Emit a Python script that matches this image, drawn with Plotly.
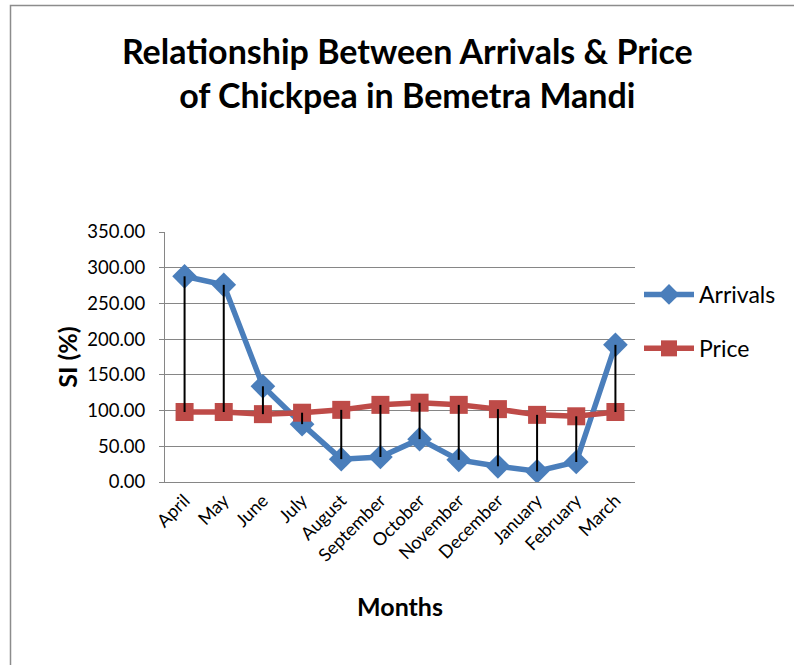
import plotly.graph_objects as go

months = ["April", "May", "June", "July", "August", "September", "October",
          "November", "December", "January", "February", "March"]
arrivals = [288, 276, 134, 81, 32, 35, 60, 31, 22, 15, 28, 192]
price = [98, 98, 95, 97, 101, 108, 111, 108, 102, 94, 92, 98]
y_ticks = [0, 50, 100, 150, 200, 250, 300, 350]

FONT = "Lato"

# high-low lines between the two series
hl_x, hl_y = [], []
for m, a, p in zip(months, arrivals, price):
    hl_x += [m, m, None]
    hl_y += [a, p, None]

fig = go.Figure()
fig.add_trace(go.Scatter(x=months, y=arrivals, name="Arrivals", mode="lines+markers",
                         legendgroup="a",
                         line=dict(color="#4a7ebb", width=5.5),
                         marker=dict(symbol="diamond", size=19, color="#4a7ebb")))
fig.add_trace(go.Scatter(x=months, y=price, name="Price", mode="lines+markers",
                         legendgroup="p",
                         line=dict(color="#be4b48", width=5.5),
                         marker=dict(symbol="square", size=18, color="#be4b48")))
fig.add_trace(go.Scatter(x=hl_x, y=hl_y, mode="lines",
                         line=dict(color="black", width=2),
                         showlegend=False, hoverinfo="skip"))

L, R, T, B = 165, 159, 232, 183
W, H = 794, 665
pw, ph = W - L - R, H - T - B

def px(x):
    return (x - L) / pw

def py(y):
    return (H - B - y) / ph

fig.update_layout(
    width=W, height=H,
    margin=dict(l=L, r=R, t=T, b=B),
    paper_bgcolor="white", plot_bgcolor="white",
    font=dict(family=FONT, color="black", size=18),
    title=dict(text="<b>Relationship Between Arrivals & Price<br>of Chickpea in Bemetra Mandi</b>",
               x=0.513, xanchor="center", y=1 - 64 / H, yanchor="middle",
               font=dict(size=34, family=FONT)),
    xaxis=dict(type="category", categoryorder="array", categoryarray=months,
               tickangle=-45, showgrid=False, showline=True, linecolor="#868686",
               linewidth=1, tickfont=dict(size=18), ticks="",
               title=dict(text="<b>Months</b>", font=dict(size=25), standoff=33),
               range=[-0.5, 11.5]),
    yaxis=dict(range=[0, 350], tickvals=y_ticks,
               ticktext=[f"{v:.2f}" for v in y_ticks],
               showgrid=True, gridcolor="#868686", gridwidth=1,
               showline=True, linecolor="#868686", linewidth=1,
               zeroline=False, ticks="outside", ticklen=5, tickcolor="#868686",
               ticklabelstandoff=10,
               tickfont=dict(size=18.5),
               title=dict(text="<b>SI (%)</b>", font=dict(size=25), standoff=2)),
    legend=dict(x=px(639), y=py(273), xanchor="left", yanchor="top",
                font=dict(size=23), tracegroupgap=21, itemwidth=50,
                bgcolor="rgba(0,0,0,0)"),
    shapes=[
        dict(type="rect", xref="paper", yref="paper",
             x0=px(10.5), x1=px(820), y0=py(5.5), y1=py(700),
             line=dict(color="#8c8c8c", width=1.5), layer="below"),
    ],
)

fig.write_html("out.html", config={"displayModeBar": False},
               post_script="document.body.style.margin='0';")
